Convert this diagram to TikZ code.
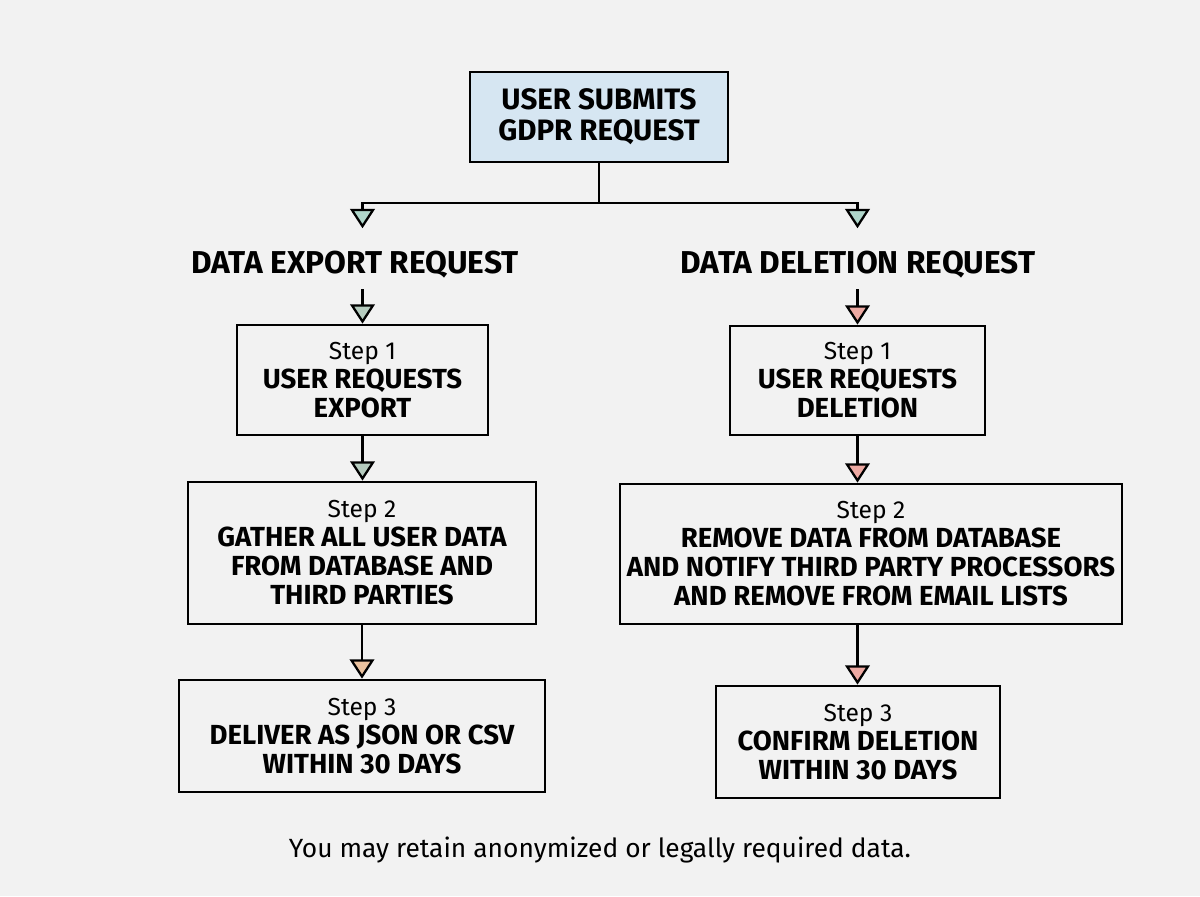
\documentclass[tikz,border=0pt]{standalone}
\usepackage{fontspec}
\setmainfont{Fira Sans}
\usepackage{tikz}
\usetikzlibrary{arrows.meta,positioning,calc}
\usepackage{xcolor}

\definecolor{bgcol}{HTML}{F2F2F2}
\definecolor{topfill}{HTML}{D6E6F2}
\definecolor{tipteal}{HTML}{AFD6CA}
\definecolor{tipgreen}{HTML}{B6CCBF}
\definecolor{tippeach}{HTML}{EBC29F}
\definecolor{tippink}{HTML}{EDA9A2}

\tikzset{
    stepbox/.style={draw, line width=1.6pt, fill=bgcol, align=center, inner sep=2pt,
        font=\fontsize{15.7}{16.5}\selectfont\bfseries},
    headline/.style={font=\fontsize{18}{20}\selectfont\bfseries, inner sep=0pt},
    arr/.style={line width=1.3pt, -{Triangle[open, length=11pt, width=14pt, line width=1.3pt, fill=#1]}},
}
\newcommand{\steplabel}[1]{{\fontsize{14}{16.5}\selectfont\mdseries Step #1}}

\begin{document}
\begin{tikzpicture}[x=0.02cm, y=-0.02cm]
    % 背景
    \fill[bgcol] (0, 0) rectangle (1200, 896);
    \useasboundingbox (0, 0) rectangle (1200, 896);

    % 顶部请求
    \node[stepbox, fill=topfill, minimum width=5.16cm, minimum height=1.8cm,
          font=\fontsize{16.8}{17.5}\selectfont\bfseries] (gdpr) at (599, 117)
        {USER SUBMITS\\GDPR REQUEST};
    \coordinate (split) at (599, 203);

    % 两个分支标题
    \node[headline] (hexp) at (355, 265) {DATA EXPORT REQUEST};
    \node[headline] (hdel) at (858, 265) {DATA DELETION REQUEST};

    % 导出步骤
    \node[stepbox, minimum width=5.02cm, minimum height=2.2cm] (exp1) at (362.5, 380)
        {\steplabel{1}\\USER REQUESTS\\EXPORT};
    \node[stepbox, minimum width=6.96cm, minimum height=2.84cm] (exp2) at (362, 553)
        {\steplabel{2}\\GATHER ALL USER DATA\\FROM DATABASE AND\\THIRD PARTIES};
    \node[stepbox, minimum width=7.32cm, minimum height=2.24cm] (exp3) at (362, 736)
        {\steplabel{3}\\DELIVER AS JSON OR CSV\\WITHIN 30 DAYS};

    % 删除步骤
    \node[stepbox, minimum width=5.1cm, minimum height=2.18cm] (del1) at (857.5, 380.5)
        {\steplabel{1}\\USER REQUESTS\\DELETION};
    \node[stepbox, minimum width=10.04cm, minimum height=2.8cm] (del2) at (871, 554)
        {\steplabel{2}\\REMOVE DATA FROM DATABASE\\AND NOTIFY THIRD PARTY PROCESSORS\\AND REMOVE FROM EMAIL LISTS};
    \node[stepbox, minimum width=5.68cm, minimum height=2.24cm] (del3) at (858, 742)
        {\steplabel{3}\\CONFIRM DELETION\\WITHIN 30 DAYS};

    % 连线
    \draw[line width=1.3pt] (gdpr.south) -- (split);
    \draw[arr=tipteal] (split) -| ([yshift=13pt]hexp.north -| exp1.north);
    \draw[arr=tipteal] (split) -| ([yshift=13pt]hdel.north -| del1.north);

    \draw[arr=tipgreen] ([yshift=-6pt]hexp.south -| exp1.north) -- (exp1.north);
    \draw[arr=tipgreen] (exp1.south) -- (exp1.south |- exp2.north);
    \draw[arr=tippeach] (exp2.south) -- (exp2.south |- exp3.north);

    \draw[arr=tippink] ([yshift=-6pt]hdel.south -| del1.north) -- (del1.north);
    \draw[arr=tippink] (del1.south) -- (del1.south |- del2.north);
    \draw[arr=tippink] (del1.south |- del2.south) -- (del1.south |- del3.north);

    % 脚注
    \node[font=\fontsize{15}{17}\selectfont] (note) at (600, 850)
        {You may retain anonymized or legally required data.};
\end{tikzpicture}
\end{document}
